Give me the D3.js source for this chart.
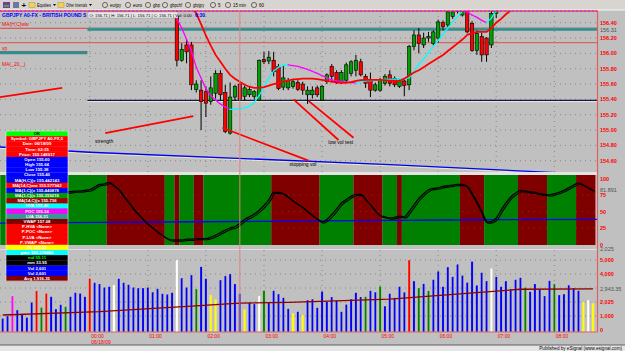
<!DOCTYPE html>
<html lang="en">
<head>
<meta charset="UTF-8" />
<title>GBPJPY A0-FX 5 min</title>
<script src="https://d3js.org/d3.v7.min.js"></script>
<style>
  body { margin: 0; background: #c0c0c0; }
  svg { display: block; font-family: "Liberation Sans", Arial, sans-serif; }
</style>
</head>
<body>
<script>
const WIDTH = 625, HEIGHT = 351;
const AXIS_X = 597.5;

// ---------------- data ----------------
// bar 0 = 22:30 (prev day), bar 18 = 00:00, 5 minute bars
const hourLabels = ["00:00","01:00","02:00","03:00","04:00","05:00","06:00","07:00","08:00"];
const firstHourBar = 18, barsPerHour = 12;
const cursorBar = 49;

// candles, first one is bar 36 (earlier bars are above the visible range)
const candleStart = 36;
const ohlc = [
  [156.48,156.56,155.83,155.91],[155.91,156.13,155.89,156.05],[156.11,156.18,155.87,156.02],[156.11,156.15,155.52,155.59],
  [155.53,155.65,155.49,155.60],[155.52,155.65,155.00,155.37],[155.50,155.57,155.17,155.35],[155.37,155.70,155.33,155.55],
  [155.48,155.78,155.41,155.74],[155.74,155.78,155.39,155.46],[155.49,155.59,154.96,154.98],[154.96,155.62,154.94,155.43],
  [155.43,155.59,155.38,155.57],[155.60,155.64,155.38,155.40],[155.44,155.58,155.38,155.55],[155.46,155.57,155.43,155.53],
  [155.44,155.52,155.40,155.50],[155.39,155.92,155.38,155.91],[155.92,156.02,155.86,155.89],[155.90,156.03,155.86,155.95],
  [155.91,156.02,155.70,155.76],[155.83,155.86,155.52,155.54],[155.56,155.85,155.52,155.68],[155.55,155.68,155.52,155.65],
  [155.57,155.66,155.54,155.63],[155.62,155.65,155.51,155.53],[155.60,155.63,155.46,155.52],[155.46,155.57,155.34,155.52],
  [155.46,155.57,155.41,155.52],[155.55,155.58,155.43,155.46],[155.39,155.59,155.38,155.57],[155.63,155.74,155.60,155.72],
  [155.83,155.86,155.62,155.70],[155.75,155.78,155.60,155.63],[155.63,155.78,155.60,155.75],[155.65,155.88,155.62,155.85],
  [155.74,155.91,155.70,155.89],[155.78,155.98,155.70,155.91],[155.89,155.93,155.70,155.72],[155.70,155.73,155.55,155.61],
  [155.66,155.75,155.43,155.52],[155.52,155.62,155.50,155.59],[155.52,155.68,155.50,155.65],[155.61,155.73,155.58,155.70],
  [155.72,155.78,155.57,155.61],[155.67,155.70,155.56,155.59],[155.57,155.67,155.55,155.65],[155.64,155.66,155.44,155.58],
  [155.59,156.11,155.52,156.09],[156.09,156.30,156.04,156.24],[156.24,156.33,156.00,156.13],[156.11,156.27,156.07,156.20],
  [156.20,156.28,156.15,156.22],[156.13,156.30,156.10,156.28],[156.20,156.44,156.14,156.41],[156.40,156.43,156.30,156.35],
  [156.37,156.60,156.34,156.54],[156.48,156.62,156.45,156.54],[156.55,156.66,156.52,156.62],[156.50,156.65,156.48,156.58],
  [156.58,156.62,156.26,156.28],[156.39,156.42,156.02,156.04],[156.04,156.30,155.98,156.26],[156.22,156.27,155.89,155.98],
  [156.20,156.21,155.89,155.98],[156.11,156.57,156.07,156.52],[156.52,156.70,156.46,156.65]
];

// red moving average, from bar 39
const redMAStart = 39;
const redMA = [
  156.62,156.52,156.38,156.23,156.10,155.98,155.89,155.80,155.72,155.67,
  155.63,155.59,155.565,155.55,155.55,155.56,155.58,155.60,155.615,155.63,
  155.645,155.66,155.665,155.67,155.67,155.67,155.665,155.655,155.64,155.63,
  155.62,155.615,155.615,155.625,155.64,155.65,155.655,155.655,155.655,155.655,
  155.65,155.645,155.64,155.64,155.67,155.71,155.75,155.78,155.82,155.86,
  155.90,155.94,155.98,156.03,156.08,156.13,156.18,156.24,156.265,156.28,
  156.28,156.28,156.33,156.40,156.45,156.51,156.56
];

// two-colour moving average (magenta falling / cyan rising), from bar 36
const colorMAStart = 36;
const colorMA = [
  156.45,156.33,156.18,156.03,155.82,155.68,155.54,155.45,155.39,155.34,
  155.30,155.27,155.27,155.28,155.29,155.31,155.36,155.45,155.56,155.68,
  155.77,155.82,155.845,155.85,155.84,155.83,155.81,155.79,155.765,155.74,
  155.71,155.68,155.655,155.64,155.63,155.625,155.62,155.615,155.63,155.64,
  155.645,155.65,155.655,155.66,155.662,155.664,155.666,155.668,155.68,155.76,
  155.86,155.93,156.01,156.09,156.17,156.25,156.33,156.41,156.48,156.55,
  156.54,156.50,156.47,156.43,156.40,156.46,156.56
];

// horizontal levels [fromBar, toBar, price, name]
const levels = [
  [-1, 17.5, 156.327, "prevMA"],
  [-1, 17.5, 156.005, "prevVP"],
  [17.5, 124, 156.31, "lva"],
  [-1, 124, 156.139, "ma"],
  [17.5, 124, 155.386, "hva"]
];

// slow blue line in price pane [bar, price]
const slowLine = [[-1,154.78],[18,154.71],[80,154.55],[119,154.43],[124,154.40]];

// drawn trend lines [[bar, price], [bar, price]]
const trendLines = [
  [[-0.6,155.43],[12.3,155.55]],
  [[21.2,154.96],[39.4,155.18]],
  [[45.4,155.03],[63.2,154.60]],
  [[60.1,155.40],[69.4,154.87]],
  [[63.2,155.38],[72.5,154.90]]
];
const notes = [["strength",19.1,154.83],["low vol test",67.3,154.82],["stopping vol",59.3,154.53]];

// oscillator, from bar 13
const oscStart = 13;
const osc = [
  79,80,81,81,82,83,87,91,92,94,
  89,83,73,64,54,46,38,31,25,19,
  14,9,7,7,7,8,8,9,9,9,
  11,14,18,22,25,27,32,38,42,46,
  52,59,68,79,79,77,72,66,61,56,
  50,44,39,34,38,45,54,63,68,73,
  76,76,68,60,51,44,42,40,41,43,
  42,50,60,70,77,83,85,86,88,89,
  90,91,91,88,76,63,48,34,35,40,
  52,63,72,78,82,81,80,79,77,76,
  75,77,79,82,86,90,93,90,86,82
];
const oscSignal = [[-1,32.5],[20,33.5],[40,34.5],[60,35.5],[80,36.5],[100,37.5],[124,38.2]];
// background state runs, alternating green / red, starting green
const bandRuns = [13,1,8,12,2,1,3,2,14,10,7,6,3,1,12,5,7,6,6,4];

// volume per bar
const volumes = [
  830,1000,2430,1430,1140,900,1980,2790,1620,2620,
  2380,1500,1810,1670,2380,2670,2620,2380,3690,3380,
  3290,3050,3100,3210,3670,3380,3240,3050,3000,3000,
  3050,2710,2950,2590,2550,2670,5000,3710,3050,3930,
  2930,4520,3670,2500,2190,3570,3860,4000,3290,2601,
  1480,1950,1860,2430,2810,1950,2810,2570,2310,1520,
  1190,1310,1070,2140,2210,1590,2760,2020,2360,2100,
  1310,1830,2210,2670,2360,2380,2810,2710,3120,1710,
  2600,2300,3100,2700,5000,3500,3000,3300,2800,3600,
  4200,3100,4500,3800,4700,3900,3400,4900,3200,4100,
  3500,4400,3800,3100,3500,2900,3600,3740,3050,2740,
  3290,2910,2430,3520,3290,2500,2570,3210,3000,2810,
  2000,2140,1900
];
// b blue, w white, y yellow, g green, r red, m magenta
const volTypes = ("bbmbbbbrgr" + "bbbgbbbbrb" + "bbbwbbbbbb" + "bbbbbbwbbb" + "gbbyybbbbb" +
  "ybbwgbbbbb" + "ybybbbbbbb" + "bbbbbgbbgb" + "bbbbrbgbgb" + "bbbbbbbbbb" +
  "bwbbbbbbgb" + "bbbbgbbbbb" + "ywy").split("");
const volAvg = [[0,1070],[20,1310],[39,1710],[49,1916],[59,1980],[80,2210],[107,2910],[122,2943]];

const priceTicks = [154.6,154.8,155.0,155.2,155.4,155.6,155.8,156.0,156.2,156.4];
const oscTicks = [0,25,50,75,100];
const volTicks = [0,1000,2025,4000,5000];

const panelRows = ["OK","Symbol: GBPJPY A0-FX,5","Date: 06/18/09","Time: 02:35","Price: 155.148917",
  "Open 155.60","High 155.64","Low 155.38","Close 155.40","MA(H,C)(x 155.442143",
  "MA(14,C)ww 155.577942","MA(1,C)(x 155.440878","MA(1,C)(x 155.359219","MA(14,C)(x 155.736",
  "HVA 155.46","POC 155.34","LVA 156.31","VWAP 157.08",
  "P-HVA <None>","P-POC <None>","P-LVA <None>","P-VWAP <None>",
  "PL 155.53","pmv 155.378806","md 55.11","mm 33.95","Vol 2,601","Vol 2,601","Avg 1,916.35"];

// toolbar: [label, left x, text width]
const toolbarItems = [["Equities",37,14],["Other Intervals",66,21],["eurjpy",110,11],["euro",133,9],["gbp",153,7],
  ["gbpchf",170,12],["gbpjpy",193,11],["5",218,2.5],["15 min",233,13],["60",259,5]];

// ---------------- styles ----------------
const RED = "#ff0000", GREEN = "#00a000";
const panelFill = ["#00ff00","#ff0000","#ff0000","#ff0000","#ff0000","#0000ff","#0000ff","#0000ff","#0000ff","#0000ff",
  "#ff0000","#0000ff","#009900","#a00000","#00ffff","#ff00ff","#339999","#800000",
  "#ff0000","#ff0000","#ff0000","#ff0000","#ffff00","#00ffff","#000000","#000000","#0000ff","#0000ff","#800000"];
const volColor = {b:"#0000ff", w:"#ffffff", y:"#ffff00", g:"#008000", r:"#ff0000", m:"#ff00ff"};
const levelStyle = {
  prevMA: {c:"#e04040", w:1}, prevVP: {c:"#2f8f8f", w:2.5}, lva: {c:"#2f8f8f", w:2.5},
  ma: {c:"#e05050", w:1}, hva: {c:"#10107a", w:1.3}
};

// ---------------- chart ----------------
const svg = d3.select("body").append("svg")
    .attr("width", WIDTH)
    .attr("height", HEIGHT);

svg.append("rect").attr("width", WIDTH).attr("height", HEIGHT).attr("fill", "#c0c0c0");

const x = d3.scaleLinear().domain([0, 122]).range([2.7, 593]);
const yP = d3.scaleLinear().domain([154.6, 156.4]).range([160.7, 22.7]);
const yO = d3.scaleLinear().domain([0, 100]).range([244.5, 178.5]);
const yV = d3.scaleLinear().domain([0, 5000]).range([330, 260]);

const PRICE = [11, 172], OSC = [175, 245], VOL = [250, 332];

const defs = svg.append("defs");
function clip(id, y0, y1) {
  defs.append("clipPath").attr("id", id)
    .append("rect").attr("x", 0).attr("y", y0).attr("width", AXIS_X).attr("height", y1 - y0);
  return svg.append("g").attr("clip-path", `url(#${id})`);
}

// toolbar
svg.append("rect").attr("width", WIDTH).attr("height", 10).attr("fill", "#d8d5d0");
svg.append("line").attr("x1", 0).attr("x2", WIDTH).attr("y1", 10).attr("y2", 10).attr("stroke", "#f4f4f4");
svg.append("rect").attr("x", 3).attr("y", 2).attr("width", 7).attr("height", 6).attr("fill", "#7a3c9c");
svg.append("rect").attr("x", 4).attr("y", 5).attr("width", 5).attr("height", 2).attr("fill", "#3cb03c");
svg.append("rect").attr("x", 13).attr("y", 2).attr("width", 6).attr("height", 6).attr("fill", "#6a7aa0");
svg.append("text").attr("x", 21.5).attr("y", 8).attr("font-size", 8).attr("font-weight", "bold").text("+");
svg.selectAll(".tb").data(toolbarItems).join("g").each(function(d, i) {
  const g = d3.select(this);
  if (i < 2) {
    g.append("rect").attr("x", d[1] - 8).attr("y", 2.5).attr("width", 6).attr("height", 5)
      .attr("fill", "#f0d060").attr("stroke", "#a08020").attr("stroke-width", 0.4);
    // drop-down arrow after the label
    g.append("path").attr("d", `M${d[1] + d[2] + 2},4 h3 l-1.5,2 z`).attr("fill", "#000");
  } else {
    g.append("circle").attr("cx", d[1] - 5).attr("cy", 5).attr("r", 2.6)
      .attr("fill", "none").attr("stroke", "#222").attr("stroke-width", 0.6);
  }
  g.append("text").attr("x", d[1]).attr("y", 7).attr("font-size", 5).attr("fill", "#000")
    .attr("textLength", d[2]).attr("lengthAdjust", "spacingAndGlyphs").text(d[0]);
});

// ---- grid ----
const hourBars = hourLabels.map((_, i) => firstHourBar + i * barsPerHour);
const grid = svg.append("g")
    .attr("stroke", "#7a7a7a").attr("stroke-dasharray", "1,4").attr("stroke-width", 0.8);
grid.selectAll(".hp").data(priceTicks).join("line")
    .attr("x1", 0).attr("x2", AXIS_X).attr("y1", d => yP(d)).attr("y2", d => yP(d));
grid.selectAll(".hv").data([1000, 2000, 3000, 4000, 5000]).join("line")
    .attr("x1", 0).attr("x2", AXIS_X).attr("y1", d => yV(d)).attr("y2", d => yV(d));
[PRICE, VOL].forEach(p => {
  grid.append("g").selectAll("line").data(hourBars).join("line")
    .attr("x1", d => x(d)).attr("x2", d => x(d)).attr("y1", p[0]).attr("y2", p[1]);
});

// ---- price pane ----
const gPrice = clip("cp", PRICE[0], PRICE[1]);

gPrice.selectAll(".lvl").data(levels).join("g").each(function(d) {
  const s = levelStyle[d[3]];
  const g = d3.select(this);
  if (d[3] === "hva") {
    g.append("line").attr("x1", x(d[0])).attr("x2", x(d[1]))
      .attr("y1", yP(d[2]) + 1.2).attr("y2", yP(d[2]) + 1.2).attr("stroke", "#f2f0a0").attr("stroke-width", 1);
  }
  if (s.w > 2) {
    g.append("line").attr("x1", x(d[0])).attr("x2", x(d[1]))
      .attr("y1", yP(d[2]) - 1.5).attr("y2", yP(d[2]) - 1.5).attr("stroke", "#707070").attr("stroke-width", 1);
  }
  g.append("line").attr("x1", x(d[0])).attr("x2", x(d[1]))
    .attr("y1", yP(d[2])).attr("y2", yP(d[2])).attr("stroke", s.c).attr("stroke-width", s.w);
});

const lineP = d3.line().x(d => x(d[0])).y(d => yP(d[1]));
gPrice.append("path").datum(slowLine).attr("d", d3.line().x(d => x(d[0])).y(d => yP(d[1]) + 1.3))
    .attr("fill", "none").attr("stroke", "#ecebb0").attr("stroke-width", 1);
gPrice.append("path").datum(slowLine).attr("d", lineP)
    .attr("fill", "none").attr("stroke", "#0000ff").attr("stroke-width", 1.3);

// candles
const candles = ohlc.map((d, i) => ({i: candleStart + i, o: d[0], h: d[1], l: d[2], c: d[3]}));
const gC = gPrice.selectAll(".candle").data(candles).join("g");
gC.append("line")
    .attr("x1", d => x(d.i)).attr("x2", d => x(d.i))
    .attr("y1", d => yP(d.h)).attr("y2", d => yP(d.l))
    .attr("stroke", "#000").attr("stroke-width", 1);
gC.append("rect")
    .attr("x", d => x(d.i) - 1.7).attr("width", 3.4)
    .attr("y", d => yP(Math.max(d.o, d.c)))
    .attr("height", d => Math.max(1, Math.abs(yP(d.o) - yP(d.c))))
    .attr("fill", d => d.c >= d.o ? GREEN : RED)
    .attr("stroke", "#000").attr("stroke-width", 0.6);

// moving averages
const cma = colorMA.map((v, i) => [colorMAStart + i, v]);
gPrice.selectAll(".cma").data(d3.pairs(cma)).join("line")
    .attr("x1", d => x(d[0][0])).attr("y1", d => yP(d[0][1]))
    .attr("x2", d => x(d[1][0])).attr("y2", d => yP(d[1][1]))
    .attr("stroke", d => d[1][1] < d[0][1] ? "#ff00ff" : "#00ffff")
    .attr("stroke-width", 1.3).attr("stroke-linecap", "round");
gPrice.append("path").datum(redMA.map((v, i) => [redMAStart + i, v])).attr("d", lineP)
    .attr("fill", "none").attr("stroke", "#ff0000").attr("stroke-width", 1.8);

// trend lines and notes
gPrice.selectAll(".tl").data(trendLines).join("line")
    .attr("x1", d => x(d[0][0])).attr("y1", d => yP(d[0][1]))
    .attr("x2", d => x(d[1][0])).attr("y2", d => yP(d[1][1]))
    .attr("stroke", "#ff0000").attr("stroke-width", 1.8);
gPrice.selectAll(".note").data(notes).join("text")
    .attr("x", d => x(d[1])).attr("y", d => yP(d[2]))
    .attr("font-size", 5).attr("fill", "#000").text(d => d[0]);

// top border & title row
svg.append("line").attr("x1", 0).attr("x2", AXIS_X).attr("y1", 11).attr("y2", 11)
    .attr("stroke", "#c02020").attr("stroke-width", 1.2);
svg.append("line").attr("x1", 0).attr("x2", AXIS_X).attr("y1", 11).attr("y2", 11)
    .attr("stroke", "#ff00ff").attr("stroke-width", 1.2).attr("stroke-dasharray", "2,2");
svg.append("text").attr("x", 2).attr("y", 16.5).attr("font-size", 5).attr("font-weight", "bold")
    .attr("fill", "#0000ff").text("GBPJPY A0-FX - BRITISH POUND S");
svg.append("rect").attr("x", 88).attr("y", 12).attr("width", 90).attr("height", 6)
    .attr("fill", "#e8e8e8").attr("stroke", "#909090").attr("stroke-width", 0.4);
svg.append("text").attr("x", 89.5).attr("y", 16.6).attr("font-size", 4.2).attr("fill", "#000")
    .text("O: 156.71 | H: 156.71 | L: 156.71 | C: 156.71 | Vol: 0.00");
svg.append("text").attr("x", 195).attr("y", 16.5).attr("font-size", 5).attr("font-weight", "bold")
    .attr("fill", "#0000ff").text("6:30");

// left study labels
[["MA(H,C)ww", 25.5], ["vp", 50], ["MA(_20,_)", 66]].forEach(d => {
  svg.append("text").attr("x", 2).attr("y", d[1]).attr("font-size", 5).attr("fill", "#ff0000").text(d[0]);
});

// pane separator
svg.append("rect").attr("x", 0).attr("y", PRICE[1]).attr("width", AXIS_X).attr("height", OSC[0] - PRICE[1])
    .attr("fill", "#e4e4e4");

// ---- oscillator pane ----
const gOsc = clip("co", OSC[0], OSC[1]);
let start = 0;
const bands = bandRuns.map((n, k) => { const b = {a: start, b: start + n, green: k % 2 === 0}; start += n; return b; });
gOsc.selectAll(".band").data(bands).join("rect")
    .attr("x", d => x(d.a - 0.5)).attr("width", d => x(d.b - 0.5) - x(d.a - 0.5))
    .attr("y", OSC[0]).attr("height", OSC[1] - OSC[0])
    .attr("fill", d => d.green ? "#008000" : "#800000");
gOsc.selectAll(".og").data([25, 50, 75]).join("line")
    .attr("x1", 0).attr("x2", AXIS_X).attr("y1", d => yO(d)).attr("y2", d => yO(d))
    .attr("stroke", "#5a5a5a").attr("stroke-dasharray", "1,5").attr("stroke-width", 0.6);
const lineO = d3.line().x(d => x(d[0])).y(d => yO(d[1]));
gOsc.append("path").datum(oscSignal).attr("d", lineO)
    .attr("fill", "none").attr("stroke", "#0000ff").attr("stroke-width", 1.3);
const oscPts = osc.map((v, i) => [oscStart + i, v]);
const oscCurve = d3.line().x(d => x(d[0])).y(d => yO(d[1])).curve(d3.curveMonotoneX);
gOsc.append("path").datum(oscPts).attr("d", oscCurve)
    .attr("fill", "none").attr("stroke", "#000").attr("stroke-width", 1.3);
gOsc.append("path").datum(oscPts).attr("d", oscCurve).attr("transform", "translate(1.5,1.2)")
    .attr("fill", "none").attr("stroke", "#000").attr("stroke-width", 1.1);

// ---- volume pane ----
svg.append("line").attr("x1", 0).attr("x2", AXIS_X).attr("y1", VOL[0] - 0.5).attr("y2", VOL[0] - 0.5)
    .attr("stroke", "#e0e0e0");
const gVol = clip("cv", VOL[0], VOL[1]);
gVol.selectAll(".vb").data(volumes).join("rect")
    .attr("x", (d, i) => x(i) - 1.1).attr("width", 2.2)
    .attr("y", d => yV(d)).attr("height", d => yV(0) - yV(d) + 2)
    .attr("fill", (d, i) => volColor[volTypes[i]])
    .attr("stroke", "#d8d4a8").attr("stroke-width", 0.3);
gVol.append("path").datum(volAvg).attr("d", d3.line().x(d => x(d[0])).y(d => yV(d[1])))
    .attr("fill", "none").attr("stroke", "#8b0000").attr("stroke-width", 1.3);

// cursor
svg.append("line").attr("x1", x(cursorBar)).attr("x2", x(cursorBar)).attr("y1", PRICE[0]).attr("y2", VOL[1])
    .attr("stroke", "#e08080").attr("stroke-opacity", 0.75).attr("stroke-width", 1.3);

// ---- info panel ----
const panel = svg.append("g");
const rowH = 150 / panelRows.length;
panel.selectAll(".pr").data(panelRows).join("rect")
    .attr("x", 6).attr("width", 62).attr("y", (d, i) => 131 + i * rowH).attr("height", rowH + 0.2)
    .attr("fill", (d, i) => panelFill[i]);
panel.selectAll(".pt").data(panelRows).join("text")
    .attr("x", 37).attr("y", (d, i) => 131 + i * rowH + rowH - 1.1)
    .attr("text-anchor", "middle").attr("font-size", 4.3).attr("font-weight", "bold")
    .attr("fill", (d, i) => i === 0 ? "#000" : (i === 24 ? "#00ff00" : "#fff"))
    .text(d => d);
panel.append("rect").attr("x", 6).attr("y", 131).attr("width", 62).attr("height", 150)
    .attr("fill", "none").attr("stroke", "#e8e8e8").attr("stroke-width", 0.6);

// ---- axes ----
svg.append("line").attr("x1", AXIS_X).attr("x2", AXIS_X).attr("y1", PRICE[0]).attr("y2", VOL[1])
    .attr("stroke", "#e06060").attr("stroke-width", 1.2);
svg.append("line").attr("x1", 0).attr("x2", AXIS_X).attr("y1", VOL[1]).attr("y2", VOL[1])
    .attr("stroke", "#e06060").attr("stroke-width", 1.2);

const lab = svg.append("g").attr("font-size", 5.5).attr("font-weight", "bold").attr("fill", "#ff0000");
lab.selectAll(".pl").data(priceTicks).join("text")
    .attr("x", 600).attr("y", d => yP(d) + 2).text(d => d3.format(".2f")(d));
lab.selectAll(".ol").data(oscTicks).join("text")
    .attr("x", 600).attr("y", d => yO(d) + 2).text(d => d);
lab.selectAll(".vl").data(volTicks).join("text")
    .attr("x", 600).attr("y", d => yV(d) + 2).text(d => d3.format(",")(d));

const grey = svg.append("g").attr("font-size", 5.5).attr("fill", "#505050");
grey.append("text").attr("x", 600).attr("y", yP(156.31) + 2).text("156.31");
grey.append("text").attr("x", 600).attr("y", yO(81.891) + 2).text("81.891");
grey.append("text").attr("x", 600).attr("y", yV(2943.35) + 2).text("2,943.35");
grey.append("text").attr("x", 600).attr("y", 251).text("2,025");

// time axis
const tax = svg.append("g").attr("font-size", 5).attr("fill", "#ff0000");
tax.selectAll(".tl").data(hourLabels).join("text")
    .attr("x", (d, i) => x(hourBars[i]) + 1.5).attr("y", 338).text(d => d);
tax.append("text").attr("x", x(firstHourBar) + 1.5).attr("y", 344).text("06/18/09");

// footer
svg.append("rect").attr("x", 0).attr("y", 345).attr("width", WIDTH).attr("height", 6).attr("fill", "#e6e6e6");
svg.append("line").attr("x1", 0).attr("x2", WIDTH).attr("y1", 345).attr("y2", 345).attr("stroke", "#606060");
svg.append("text").attr("x", 622).attr("y", 350).attr("text-anchor", "end").attr("font-size", 4.6)
    .attr("fill", "#000").text("Published by eSignal (www.esignal.com)");
</script>
</body>
</html>
